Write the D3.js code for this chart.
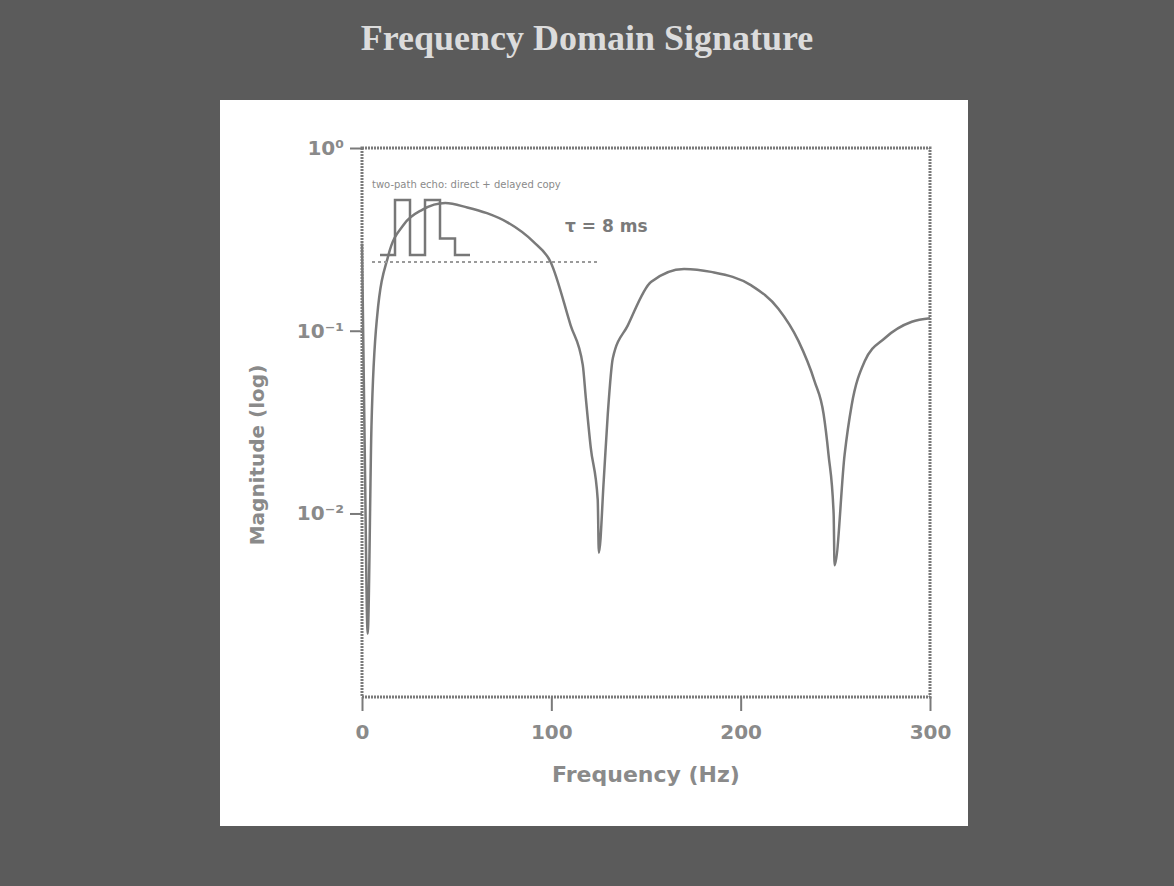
<!DOCTYPE html>
<html>
<head>
<meta charset="utf-8">
<script src="https://cdn.jsdelivr.net/npm/d3@7"></script>
<style>
  body { margin: 0; background: #5b5b5b; }
  svg { display: block; }
</style>
</head>
<body>
<svg id="chart" width="1174" height="886"></svg>
<script>
// values (Hz, linear magnitude on a log axis)
var freqs = [0, 1.5, 3, 5, 8, 14, 22, 32, 44, 55.6, 66, 76.8, 90.6, 99.6, 110.2, 116.6, 118.2, 120.8, 124.5, 125.1,
             127.7, 129.8, 132.5, 140.4, 152.6, 170.1, 184.4, 205.6, 219.9, 230.5, 239, 243.8, 246.4, 249.1, 249.6,
             254.9, 258.6, 265.5, 276.1, 290.4, 300];
var mags = [0.30, 0.02, 0.0022, 0.03, 0.12, 0.26, 0.38, 0.46, 0.50, 0.473, 0.44, 0.392, 0.306, 0.238, 0.107, 0.065, 0.043, 0.023, 0.0119, 0.0061,
            0.0153, 0.0348, 0.071, 0.107, 0.185, 0.218, 0.210, 0.177, 0.132, 0.088, 0.053, 0.035, 0.021, 0.010, 0.0052,
            0.021, 0.039, 0.068, 0.091, 0.112, 0.117];
var xTicks = [0, 100, 200, 300];
var yTicks = [1, 0.1, 0.01];
var yTickLabels = ['10\u2070', '10\u207B\u00B9', '10\u207B\u00B2'];
// small pulse sketch in the inset (time, level)
var pulseT = [0, 1, 1, 2, 2, 3, 3, 4, 4, 5, 5, 6];
var pulseV = [0, 0, 1, 1, 0, 0, 1, 1, 0.3, 0.3, 0, 0];

var svg = d3.select('#chart');
var ink = '#7a7a7a';

// white panel
svg.append('rect').attr('x', 220).attr('y', 100).attr('width', 748).attr('height', 726).attr('fill', '#fff');

// title
svg.append('text')
    .attr('x', 587).attr('y', 50)
    .attr('text-anchor', 'middle')
    .style('font-family', 'Liberation Serif, serif')
    .style('font-size', '36px')
    .style('font-weight', 'bold')
    .style('fill', '#dcdcdc')
    .text('Frequency Domain Signature');

var x = d3.scaleLinear().domain([0, 300]).range([362, 930]);
var y = d3.scaleLog().domain([0.00099, 1]).range([697, 148]);

// frame
svg.append('rect').attr('x', 362).attr('y', 148).attr('width', 568).attr('height', 549)
    .attr('fill', 'none').attr('stroke', ink).attr('stroke-width', 3)
    .attr('stroke-dasharray', '2,1');

var xAxis = svg.append('g').attr('transform', 'translate(0,697)')
    .call(d3.axisBottom(x).tickValues(xTicks).tickSize(14).tickPadding(14));
var yAxis = svg.append('g').attr('transform', 'translate(362,0)')
    .call(d3.axisLeft(y).tickValues(yTicks).tickSize(12).tickPadding(6)
        .tickFormat(function(d, i) { return yTickLabels[i]; }));

[xAxis, yAxis].forEach(function(g) {
    g.select('.domain').remove();
    g.selectAll('line').attr('stroke', ink).attr('stroke-width', 2);
    g.selectAll('text')
        .style('font-family', 'DejaVu Sans, sans-serif')
        .style('font-size', '20px')
        .style('font-weight', 'bold')
        .attr('fill', '#8a8a8a');
});

// axis titles
svg.append('text')
    .attr('x', 646).attr('y', 782)
    .attr('text-anchor', 'middle')
    .style('font-family', 'DejaVu Sans, sans-serif')
    .style('font-size', '22px')
    .style('font-weight', 'bold')
    .style('fill', '#8a8a8a')
    .text('Frequency (Hz)');

svg.append('text')
    .attr('transform', 'translate(264,455) rotate(-90)')
    .attr('text-anchor', 'middle')
    .style('font-family', 'DejaVu Sans, sans-serif')
    .style('font-size', '20px')
    .style('font-weight', 'bold')
    .style('fill', '#8a8a8a')
    .text('Magnitude (log)');

// spectrum curve
var pts = freqs.map(function(f, i) { return [f, mags[i]]; });
var line = d3.line()
    .x(function(d) { return x(d[0]); })
    .y(function(d) { return y(d[1]); })
    .curve(d3.curveMonotoneX);

svg.append('path')
    .datum(pts)
    .attr('d', line)
    .attr('fill', 'none')
    .attr('stroke', ink)
    .attr('stroke-width', 2.5);

// inset annotation
var inset = svg.append('g');
inset.append('text')
    .attr('x', 372).attr('y', 188)
    .style('font-family', 'DejaVu Sans, sans-serif')
    .style('font-size', '10px')
    .style('fill', '#8a8a8a')
    .text('two-path echo: direct + delayed copy');
inset.append('line').attr('x1', 372).attr('x2', 598).attr('y1', 262).attr('y2', 262)
    .attr('stroke', '#9a9a9a').attr('stroke-width', 2).attr('stroke-dasharray', '3,3');

var px = d3.scaleLinear().domain([0, 6]).range([380, 470]);
var py = d3.scaleLinear().domain([0, 1]).range([255, 200]);
inset.append('path')
    .datum(pulseT.map(function(t, i) { return [t, pulseV[i]]; }))
    .attr('d', d3.line().x(function(d) { return px(d[0]); }).y(function(d) { return py(d[1]); }))
    .attr('fill', 'none')
    .attr('stroke', '#777')
    .attr('stroke-width', 2.5);

inset.append('text')
    .attr('x', 565).attr('y', 232)
    .style('font-family', 'DejaVu Sans, sans-serif')
    .style('font-size', '17px')
    .style('font-weight', 'bold')
    .style('fill', '#7a7a7a')
    .text('\u03C4 = 8 ms');
</script>
</body>
</html>
